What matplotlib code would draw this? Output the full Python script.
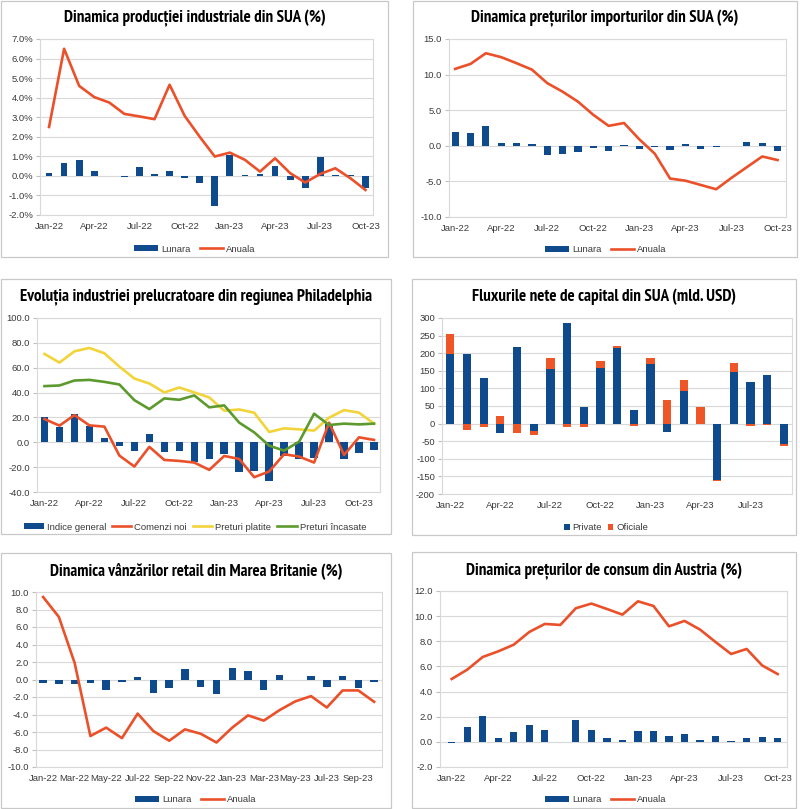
import numpy as np
import matplotlib
matplotlib.use('Agg')
import matplotlib.pyplot as plt
from matplotlib.patches import Rectangle
from matplotlib.ticker import FuncFormatter
from matplotlib import font_manager as fm

# months on the category axes
months = ['Jan-22', 'Feb-22', 'Mar-22', 'Apr-22', 'May-22', 'Jun-22', 'Jul-22', 'Aug-22',
          'Sep-22', 'Oct-22', 'Nov-22', 'Dec-22', 'Jan-23', 'Feb-23', 'Mar-23', 'Apr-23',
          'May-23', 'Jun-23', 'Jul-23', 'Aug-23', 'Sep-23', 'Oct-23', 'Nov-23']

# 1. US industrial production (%)
ip_lunara = [0.14, 0.65, 0.79, 0.27, 0.0, -0.05, 0.43, 0.1, 0.27, -0.1, -0.34, -1.52,
             1.06, 0.03, 0.09, 0.49, -0.2, -0.6, 0.96, 0.03, 0.07, -0.63]
ip_anuala = [2.5, 6.5, 4.6, 4.03, 3.75, 3.17, 3.04, 2.9, 4.66, 3.07, 2.0, 0.99,
             1.19, 0.82, 0.22, 0.9, 0.14, -0.34, 0.1, 0.39, -0.12, -0.72]

# 2. US import prices (%)
imp_lunara = [1.9, 1.8, 2.85, 0.45, 0.45, 0.2, -1.35, -1.2, -0.9, -0.3, -0.7, 0.05,
              -0.4, -0.2, -0.65, 0.25, -0.4, -0.2, 0.0, 0.6, 0.35, -0.7]
imp_anuala = [10.8, 11.5, 13.0, 12.45, 11.6, 10.7, 8.8, 7.6, 6.2, 4.35, 2.8, 3.2,
              0.9, -1.1, -4.6, -4.9, -5.5, -6.1, -4.5, -3.0, -1.5, -2.0]

# 3. Philadelphia manufacturing
ph_general = [20.6, 12.6, 22.4, 13.1, 3.2, -3.0, -7.0, 6.4, -7.5, -7.0, -15.8, -13.6,
              -9.4, -24.3, -23.0, -31.5, -10.7, -13.6, -12.8, 15.0, -13.1, -8.8, -6.1]
ph_comenzi = [18.7, 13.4, 21.9, 13.6, 12.6, -10.7, -19.5, -3.7, -14.2, -15.0, -16.3, -22.2,
              -11.0, -13.4, -28.1, -23.5, -9.6, -11.5, -16.3, 15.8, -10.2, 4.0, 1.9]
ph_platite = [71.1, 64.1, 73.2, 75.9, 71.6, 60.9, 51.3, 47.3, 40.1, 44.1, 40.1, 36.1,
              25.4, 26.4, 23.8, 8.3, 11.2, 10.4, 9.4, 19.8, 25.9, 23.8, 15.0]
ph_incasate = [45.2, 45.7, 49.7, 50.2, 48.6, 46.5, 33.9, 26.7, 35.3, 34.2, 37.7, 28.1,
               29.7, 15.8, 8.0, -2.7, -6.7, 0.5, 23.0, 13.9, 15.0, 14.4, 15.0]

# 4. US net capital flows (bn USD)
cf_private = [198, 197, 130, -27, 217, -22, 154, 286, 47, 158, 215, 39,
              168, -25, 92, 0, -161, 147, 119, 138, -57]
cf_oficiale = [57, -19, -10, 21, -26, -11, 31, -9, -9, 19, 6, -6,
               17, 66, 31, 46, -1, 25, -8, -5, -7]

# 5. UK retail sales (%)
uk_lunara = [-0.4, -0.55, -0.55, -0.4, -1.15, -0.25, 0.3, -1.5, -0.95, 1.25, -0.8, -1.65,
             1.33, 0.95, -1.15, 0.55, 0.0, 0.45, -0.9, 0.45, -0.95, -0.25]
uk_anuala = [9.43, 7.15, 1.9, -6.46, -5.5, -6.7, -3.9, -5.9, -7.0, -5.7, -6.2, -7.2,
             -5.5, -4.1, -4.7, -3.5, -2.5, -1.9, -3.2, -1.25, -1.25, -2.55]

# 6. Austria consumer prices (%)
at_lunara = [-0.08, 1.22, 2.07, 0.27, 0.82, 1.33, 0.98, 0.0, 1.7, 0.98, 0.27, 0.13,
             0.85, 0.9, 0.5, 0.66, 0.13, 0.48, 0.1, 0.29, 0.4, 0.29]
at_anuala = [5.0, 5.74, 6.75, 7.2, 7.73, 8.74, 9.38, 9.3, 10.63, 11.0, 10.57, 10.12,
             11.18, 10.81, 9.19, 9.62, 8.93, 7.94, 6.99, 7.39, 6.08, 5.39]

# style
W, H = 800, 809
blue = '#0E4A8C'
red = '#EA5029'
yellow = '#F2D43A'
green = '#5C9A2E'
grid_c = '#D9D9D9'
txt_c = '#3A3A3A'
tick_font = 'Liberation Sans'
fs = 6.8
lw = 1.9

# look for a narrow / condensed bold face for the titles
cond = []
for f in fm.fontManager.ttflist:
    try:
        w = int(f.weight)
    except (TypeError, ValueError):
        w = 700 if 'bold' in str(f.weight) else 400
    nm = f.name + ' ' + f.fname
    if w >= 600 and ('Narrow' in nm or 'Condensed' in nm or 'condensed' in str(f.stretch)) \
            and 'Oblique' not in f.fname and 'Italic' not in f.fname:
        cond.append(f)
cond.sort(key=lambda f: (0 if 'Narrow' in f.name else 1 if 'DejaVu' in f.name else 2))
if cond:
    title_prop = fm.FontProperties(fname=cond[0].fname, size=11)
else:
    title_prop = fm.FontProperties(family='Liberation Sans', weight='bold', size=11)

fig = plt.figure(figsize=(W / 100, H / 100), dpi=100)
fig.patch.set_facecolor('white')
titles = []


def px_axes(l, t, r, b):
    return fig.add_axes([l / W, 1 - b / H, (r - l) / W, (b - t) / H])


def panel(l, t, r, b, title, ty, tw):
    fig.patches.append(Rectangle((l / W, 1 - b / H), (r - l) / W, (b - t) / H,
                                 transform=fig.transFigure, fill=False,
                                 ec='#C8C8C8', lw=0.9))
    t = fig.text((l + r) / 2 / W, 1 - ty / H, title, ha='center', va='center',
                 fontproperties=title_prop.copy(), color='black')
    titles.append((t, tw))


def style(ax, ymin, ymax, step, fmt, xlim, every, n):
    ax.set_ylim(ymin, ymax)
    ax.set_yticks(np.arange(ymin, ymax + step / 2, step))
    ax.yaxis.set_major_formatter(FuncFormatter(fmt))
    ax.set_xlim(*xlim)
    idx = list(range(0, n, every))
    ax.set_xticks(idx)
    ax.set_xticklabels([months[i] for i in idx])
    ax.grid(axis='y', color=grid_c, lw=0.8)
    ax.set_axisbelow(True)
    for s in ax.spines.values():
        s.set_color(grid_c)
        s.set_linewidth(0.8)
    ax.tick_params(axis='y', length=3, color='#BFBFBF', labelsize=fs, labelcolor=txt_c, pad=2)
    ax.tick_params(axis='x', length=0, labelsize=fs, labelcolor=txt_c, pad=5)
    for lab in ax.get_xticklabels() + ax.get_yticklabels():
        lab.set_family(tick_font)


def legend(ax, handles, cx, cy, ncol, hl=2.5, hh=0.55, cs=1.0):
    ax.legend(handles=handles, loc='center', bbox_to_anchor=(cx / W, 1 - cy / H),
              bbox_transform=fig.transFigure,
              ncol=ncol, frameon=False, prop={'family': tick_font, 'size': fs},
              handlelength=hl, handleheight=hh, handletextpad=0.3, columnspacing=cs,
              labelcolor=txt_c)


# panel 1
panel(1, 1, 388, 257, 'Dinamica producției industriale din SUA (%)', 18, 261)
ax = px_axes(40, 39, 373, 215)
x = np.arange(len(ip_lunara))
b1 = ax.bar(x, ip_lunara, width=0.45, color=blue, label='Lunara')
l1, = ax.plot(x, ip_anuala, color=red, lw=lw, label='Anuala')
style(ax, -2, 7, 1, lambda v, p: f'{v:.1f}%', (-0.6, 21.5), 3, len(x))
legend(ax, [b1, l1], 195, 249, 2)

# panel 2
panel(413, 1, 797, 257, 'Dinamica prețurilor importurilor din SUA (%)', 18, 266)
ax = px_axes(449, 39, 786, 217)
x = np.arange(len(imp_lunara))
b1 = ax.bar(x, imp_lunara, width=0.47, color=blue, label='Lunara')
l1, = ax.plot(x, imp_anuala, color=red, lw=lw, label='Anuala')
style(ax, -10, 15, 5, lambda v, p: f'{v:.1f}', (-0.4, 21.55), 3, len(x))
legend(ax, [b1, l1], 606, 250, 2)

# panel 3
panel(1, 279, 391, 534, 'Evoluția industriei prelucratoare din regiunea Philadelphia', 297, 351)
ax = px_axes(37, 318, 380, 492)
x = np.arange(len(ph_general))
b1 = ax.bar(x, ph_general, width=0.5, color=blue, label='Indice general')
l1, = ax.plot(x, ph_comenzi, color=red, lw=lw, label='Comenzi noi')
l2, = ax.plot(x, ph_platite, color=yellow, lw=lw, label='Preturi platite')
l3, = ax.plot(x, ph_incasate, color=green, lw=lw, label='Preturi încasate')
style(ax, -40, 100, 20, lambda v, p: f'{v:.1f}', (-0.5, 22.4), 3, len(x))
legend(ax, [b1, l1, l2, l3], 195, 527, 4, hl=2.1, cs=0.6)

# panel 4
panel(412, 279, 796, 535, 'Fluxurile nete de capital din SUA (mld. USD)', 297, 264)
ax = px_axes(442, 318, 792, 494)
x = np.arange(len(cf_private))
p = np.array(cf_private)
o = np.array(cf_oficiale)
o_bottom = np.where(np.sign(o) == np.sign(p), p, 0)
b1 = ax.bar(x, p, width=0.5, color=blue, label='Private')
b2 = ax.bar(x, o, bottom=o_bottom, width=0.5, color='#EE5527', label='Oficiale')
style(ax, -200, 300, 50, lambda v, p: f'{v:.0f}', (-0.5, 20.5), 3, len(x))
legend(ax, [b1, b2], 606, 528, 2, hl=0.6, hh=0.6, cs=0.6)

# panel 5
panel(1, 553, 391, 808, 'Dinamica vânzărilor retail din Marea Britanie (%)', 571, 293)
ax = px_axes(36, 592, 382, 767)
x = np.arange(len(uk_lunara))
b1 = ax.bar(x, uk_lunara, width=0.47, color=blue, label='Lunara')
l1, = ax.plot(x, uk_anuala, color=red, lw=lw, label='Anuala')
style(ax, -10, 10, 2, lambda v, p: f'{v:.1f}', (-0.45, 21.5), 2, len(x))
legend(ax, [b1, l1], 196, 800, 2)

# panel 6
panel(412, 552, 796, 808, 'Dinamica prețurilor de consum din Austria (%)', 571, 275)
ax = px_axes(440, 591, 787, 767)
x = np.arange(len(at_lunara))
b1 = ax.bar(x, at_lunara, width=0.47, color=blue, label='Lunara')
l1, = ax.plot(x, at_anuala, color=red, lw=lw, label='Anuala')
style(ax, -2, 12, 2, lambda v, p: f'{v:.1f}', (-0.75, 21.6), 3, len(x))
legend(ax, [b1, l1], 606, 800, 2)

# fit the titles to the width they take in the original
fig.canvas.draw()
rend = fig.canvas.get_renderer()
for t, tw in titles:
    w = t.get_window_extent(rend).width
    t.set_fontsize(min(12.5, 11 * tw / w))

fig.savefig('out.png', dpi=100, facecolor='white')
